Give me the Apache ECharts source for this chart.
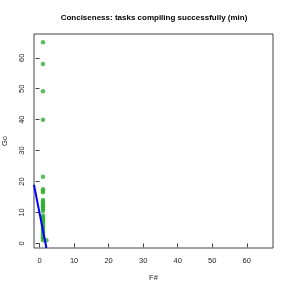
<!DOCTYPE html>
<html>
<head>
<meta charset="utf-8">
<script src="https://cdn.jsdelivr.net/npm/echarts@6/dist/echarts.min.js"></script>
<style>html,body{margin:0;padding:0;background:#fff}#c{width:291px;height:291px}</style>
</head>
<body>
<div id="c"></div>
<script>
var xTicks = [0, 10, 20, 30, 40, 50, 60];
var yTicks = [0, 10, 20, 30, 40, 50, 60];
var pointsX = [1,1,1,1,1,1,1,1,1,1,1,1,1,1,1,1,1,1,1,1,1,1,1,1,1,1,1,1,1,1,1,1,1,2];
var pointsY = [65,58,49.2,40,21.5,17.5,17,16.5,14,13.5,13,12.5,12,11.5,11,10.5,9,8.5,8,7.5,7,6.5,6,5.5,5,4.5,4,3.5,3,2.5,2,1.5,1,1];
var lineX = [-1.6, 2.0];
var lineY = [18.9, -1.5];

var pts = pointsX.map(function (x, i) { return [x, pointsY[i]]; });
var ln = lineX.map(function (x, i) { return [x, lineY[i]]; });

var chart = echarts.init(document.getElementById('c'));
var fontFam = 'Liberation Sans, Arial, sans-serif';
chart.setOption({
  animation: false,
  title: {
    text: 'Conciseness: tasks compiling successfully (min)',
    left: 149, top: 9, textAlign: 'center',
    textStyle: { fontSize: 8, fontWeight: 'bold', color: '#000', fontFamily: fontFam }
  },
  grid: { left: 34, right: 18, top: 34, bottom: 43, containLabel: false, outerBoundsMode: 'none', show: true, borderColor: '#444', borderWidth: 1, backgroundColor: 'transparent' },
  xAxis: {
    type: 'value', min: -1.6, max: 67.6,
    name: 'F#', nameLocation: 'middle', nameGap: 26,
    nameTextStyle: { fontSize: 7.5, color: '#222', fontFamily: fontFam },
    axisLine: { show: false },
    axisTick: { show: true, length: 4, lineStyle: { color: '#444' }, customValues: xTicks },
    axisLabel: { fontSize: 7.5, color: '#222', margin: 8.5, fontFamily: fontFam, customValues: xTicks },
    splitLine: { show: false }
  },
  yAxis: {
    type: 'value', min: -1.5, max: 67.7,
    name: 'Go', nameLocation: 'middle', nameGap: 25,
    nameTextStyle: { fontSize: 7.5, color: '#222', fontFamily: fontFam },
    axisLine: { show: false },
    axisTick: { show: true, length: 4, lineStyle: { color: '#444' }, customValues: yTicks },
    axisLabel: { fontSize: 7.5, color: '#222', margin: 8.5, rotate: 90, fontFamily: fontFam, customValues: yTicks },
    splitLine: { show: false }
  },
  series: [
    { type: 'scatter', data: pts, symbol: 'circle', symbolSize: 4.5, itemStyle: { color: '#2fae2f' }, z: 2 },
    { type: 'line', data: ln, showSymbol: false, symbol: 'none', lineStyle: { color: '#0000ff', width: 2 }, z: 3, clip: true }
  ]
});
</script>
</body>
</html>
